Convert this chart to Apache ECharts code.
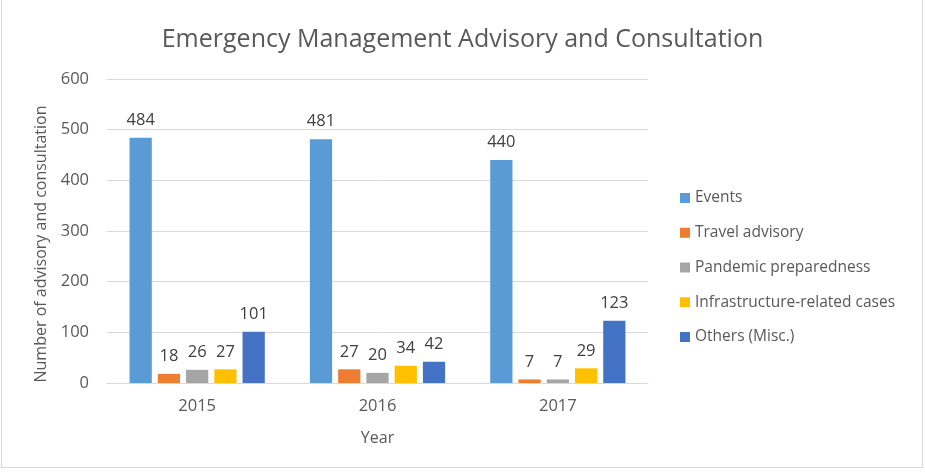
<!DOCTYPE html>
<html>
<head>
<meta charset="utf-8">
<script src="https://cdn.jsdelivr.net/npm/echarts@6/dist/echarts.min.js"></script>
<style>
  html, body { margin: 0; padding: 0; background: #fff; }
  #chart { position: absolute; left: 0; top: 0; width: 925px; height: 472px; }
  #frame { position: absolute; left: 1px; top: -1px; width: 920px; height: 467px; border: 1px solid #d9d9d9; pointer-events: none; }
</style>
</head>
<body>
<div id="chart"></div>
<div id="frame"></div>
<script>
// data
const years = ['2015', '2016', '2017'];
const events = [484, 481, 440];
const travel = [18, 27, 7];
const pandemic = [26, 20, 7];
const infra = [27, 34, 29];
const others = [101, 42, 123];

const seriesNames = ['Events', 'Travel advisory', 'Pandemic preparedness', 'Infrastructure-related cases', 'Others (Misc.)'];
const seriesData = [events, travel, pandemic, infra, others];
const colors = ['#5B9BD5', '#ED7D31', '#A5A5A5', '#FFC000', '#4472C4'];

const font = 'Open Sans';
let myChart = echarts.init(document.getElementById('chart'));
myChart.setOption({
  animation: false,
  color: colors,
  title: {
    text: 'Emergency Management Advisory and Consultation',
    left: 'center',
    top: 22,
    textStyle: { fontFamily: font, fontSize: 25, fontWeight: 'normal', color: '#595959' }
  },
  legend: {
    orient: 'vertical',
    left: 675,
    top: 185,
    itemWidth: 10,
    itemHeight: 10,
    itemGap: 18.75,
    icon: 'rect',
    textStyle: { fontFamily: font, fontSize: 15.5, lineHeight: 14, color: '#595959', padding: [0, 0, 0, 0] },
    data: seriesNames
  },
  grid: { left: 107, right: 277, top: 79, bottom: 89 },
  xAxis: {
    type: 'category',
    data: years,
    name: 'Year',
    nameLocation: 'middle',
    nameGap: 47,
    nameTextStyle: { fontFamily: font, fontSize: 16, color: '#595959' },
    axisTick: { show: false },
    axisLine: { lineStyle: { color: '#d9d9d9' } },
    axisLabel: { fontFamily: font, fontSize: 16.5, color: '#595959', margin: 15 }
  },
  yAxis: {
    type: 'value',
    min: 0,
    max: 600,
    interval: 100,
    name: 'Number of advisory and consultation',
    nameLocation: 'middle',
    nameGap: 50,
    nameTextStyle: { fontFamily: font, fontSize: 16, color: '#595959', padding: [0, 0, 0, -26] },
    axisLine: { show: false },
    axisTick: { show: false },
    splitLine: { lineStyle: { color: '#d9d9d9' } },
    axisLabel: { fontFamily: font, fontSize: 16.5, color: '#595959', margin: 18 }
  },
  series: seriesNames.map((name, i) => ({
    name: name,
    type: 'bar',
    data: seriesData[i],
    barGap: '27%',
    barCategoryGap: '25%',
    label: {
      show: true,
      position: 'top',
      distance: 9,
      fontFamily: font,
      fontSize: 16.5,
      color: '#404040'
    }
  }))
});
</script>
</body>
</html>
